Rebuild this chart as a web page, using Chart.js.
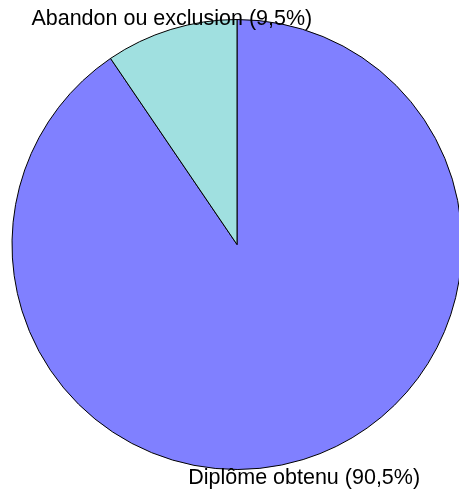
<!DOCTYPE html>
<html>
<head>
<meta charset="utf-8">
<script src="https://cdn.jsdelivr.net/npm/chart.js@4"></script>
<style>
    html, body { margin: 0; padding: 0; background: #fff; overflow: hidden; }
    #wrap { width: 474px; height: 491px; position: relative; }
</style>
</head>
<body>
<div id="wrap"><canvas id="chart"></canvas></div>
<script>
const categories = ["Diplôme obtenu", "Abandon ou exclusion"]
const shares = [90.5, 9.5]
const sliceColors = ["#8080ff", "#a0e0e0"]

// labels put just outside the middle of each slice
const sliceLabels = {
    id: "sliceLabels",
    afterDraw(chart) {
        const ctx = chart.ctx
        const arcs = chart.getDatasetMeta(0).data
        ctx.save()
        ctx.font = "21.5px 'Liberation Sans', Arial, sans-serif"
        ctx.fillStyle = "#000"
        ctx.textAlign = "center"
        ctx.textBaseline = "alphabetic"
        arcs.forEach((arc, i) => {
            const { x, y, startAngle, endAngle, outerRadius } = arc.getProps(["x", "y", "startAngle", "endAngle", "outerRadius"])
            const mid = (startAngle + endAngle) / 2
            const px = x + Math.cos(mid) * outerRadius
            const py = y + Math.sin(mid) * outerRadius
            const text = categories[i] + " (" + shares[i].toFixed(1).replace(".", ",") + "%)"
            const ty = py < y ? py - 4.5 : py + 24.5
            ctx.fillText(text, px + 1, ty)
        })
        ctx.restore()
    },
}

new Chart(document.getElementById("chart"), {
    type: "pie",
    data: {
        labels: categories,
        datasets: [
            {
                data: shares,
                backgroundColor: sliceColors,
                borderColor: "#000",
                borderWidth: 1,
            },
        ],
    },
    options: {
        responsive: true,
        maintainAspectRatio: false,
        animation: false,
        layout: {
            padding: { left: 11.5, right: 11.5, top: 19, bottom: 21 },
        },
        plugins: {
            legend: { display: false },
            tooltip: { enabled: false },
        },
    },
    plugins: [sliceLabels],
})
</script>
</body>
</html>
